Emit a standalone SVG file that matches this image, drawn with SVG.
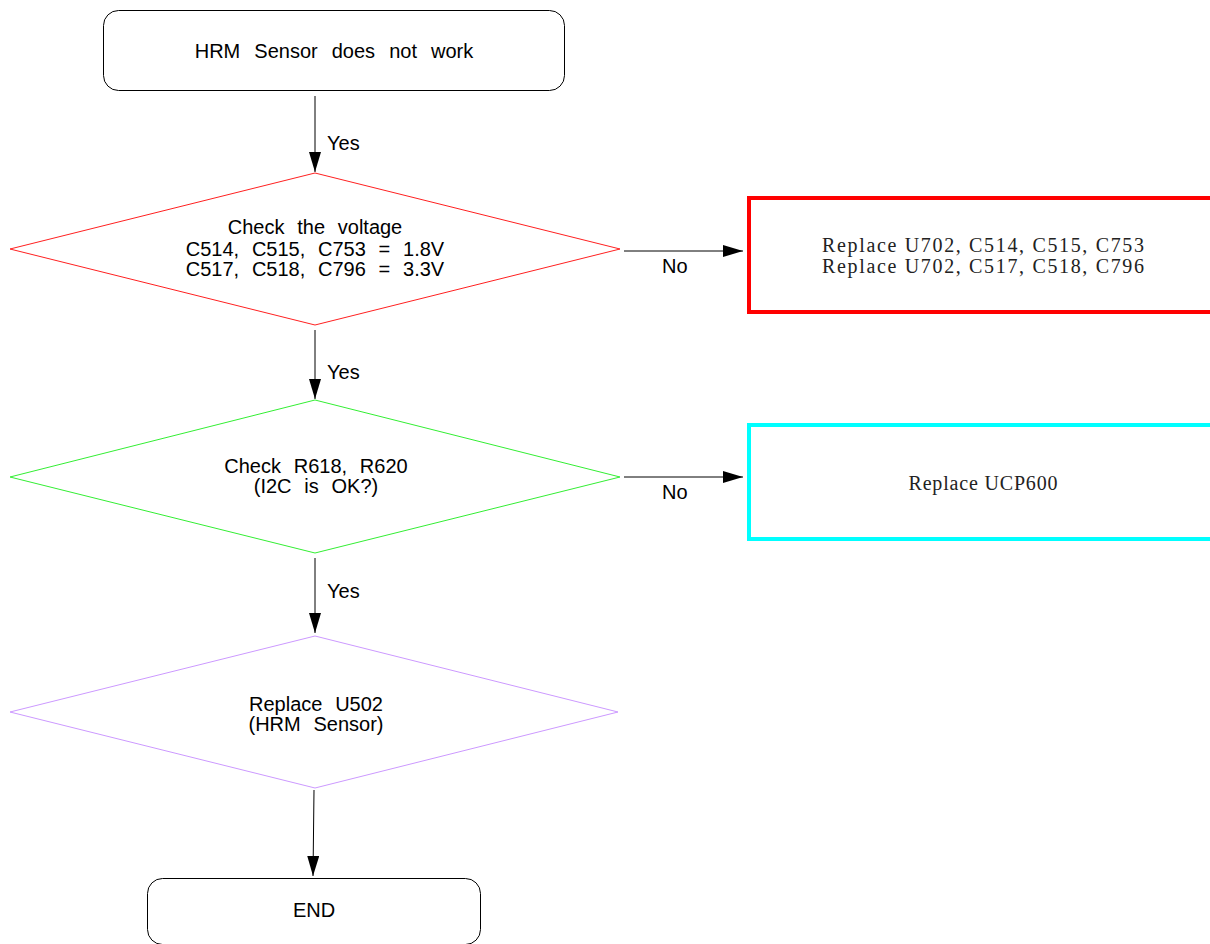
<svg xmlns="http://www.w3.org/2000/svg" width="1210" height="944" viewBox="0 0 1210 944">
<style>
.t{font-family:"Liberation Sans",Arial,sans-serif;font-size:20px;fill:#000;text-anchor:middle;word-spacing:8.5px}
.d{word-spacing:7.2px}
.lbl{font-family:"Liberation Sans",Arial,sans-serif;font-size:20px;fill:#000}
.s{font-family:"Liberation Serif","Times New Roman",serif;font-size:20px;fill:#222;text-anchor:middle}
.term{fill:#fff;stroke:#000;stroke-width:1}
.conn{stroke:#000;stroke-width:1;fill:none}
</style>
<defs>
<marker id="ah" markerUnits="userSpaceOnUse" markerWidth="20" markerHeight="12" refX="20" refY="6" orient="auto">
<path d="M0,0 L20,6 L0,12 z" fill="#000"/>
</marker>
</defs>
<rect width="1210" height="944" fill="#fff"/>
<g id="connectors">
<line class="conn" x1="315" y1="96" x2="315" y2="172" marker-end="url(#ah)"/>
<text class="lbl" x="327" y="150">Yes</text>
<line class="conn" x1="315" y1="330" x2="315" y2="399" marker-end="url(#ah)"/>
<text class="lbl" x="327" y="379">Yes</text>
<line class="conn" x1="315" y1="558" x2="315" y2="633" marker-end="url(#ah)"/>
<text class="lbl" x="327" y="598">Yes</text>
<line class="conn" x1="314" y1="790" x2="313" y2="876" marker-end="url(#ah)"/>
<line class="conn" x1="624" y1="251" x2="743" y2="251" marker-end="url(#ah)"/>
<text class="lbl" x="662" y="273">No</text>
<line class="conn" x1="624" y1="477" x2="743" y2="477" marker-end="url(#ah)"/>
<text class="lbl" x="662" y="499">No</text>
</g>
<g id="start">
<rect class="term" x="103.5" y="10.5" width="461" height="80" rx="15" ry="15"/>
<text class="t" x="334" y="58">HRM Sensor does not work</text>
</g>
<g id="check-voltage">
<polygon points="315,173 620,249 315,325 10,249" fill="#fff" stroke="#ff2020" stroke-width="1"/>
<text class="t d" x="315" y="234">Check the voltage</text>
<text class="t d" x="315" y="255.5">C514, C515, C753 = 1.8V</text>
<text class="t d" x="315" y="275.5">C517, C518, C796 = 3.3V</text>
</g>
<g id="replace-u702">
<rect x="749" y="198" width="470" height="114" fill="#fff" stroke="#ff0000" stroke-width="4"/>
<text class="s" x="983" y="252" textLength="322" lengthAdjust="spacing">Replace U702, C514, C515, C753</text>
<text class="s" x="983" y="273" textLength="322" lengthAdjust="spacing">Replace U702, C517, C518, C796</text>
</g>
<g id="check-i2c">
<polygon points="315,400 620,477 315,553 10,477" fill="#fff" stroke="#33ee33" stroke-width="1"/>
<text class="t d" x="316" y="472.5">Check R618, R620</text>
<text class="t d" x="316" y="492.5">(I2C is OK?)</text>
</g>
<g id="replace-ucp600">
<rect x="749" y="425" width="470" height="114" fill="#fff" stroke="#00ffff" stroke-width="4"/>
<text class="s" x="983" y="489.5" textLength="149" lengthAdjust="spacing">Replace UCP600</text>
</g>
<g id="replace-u502">
<polygon points="315,636 618,712 315,788 10,712" fill="#fff" stroke="#cc99ff" stroke-width="1"/>
<text class="t d" x="316" y="711">Replace U502</text>
<text class="t d" x="316" y="731">(HRM Sensor)</text>
</g>
<g id="end">
<rect class="term" x="147.5" y="878.5" width="333" height="66" rx="15" ry="15"/>
<text class="t" x="314" y="917">END</text>
</g>
</svg>
